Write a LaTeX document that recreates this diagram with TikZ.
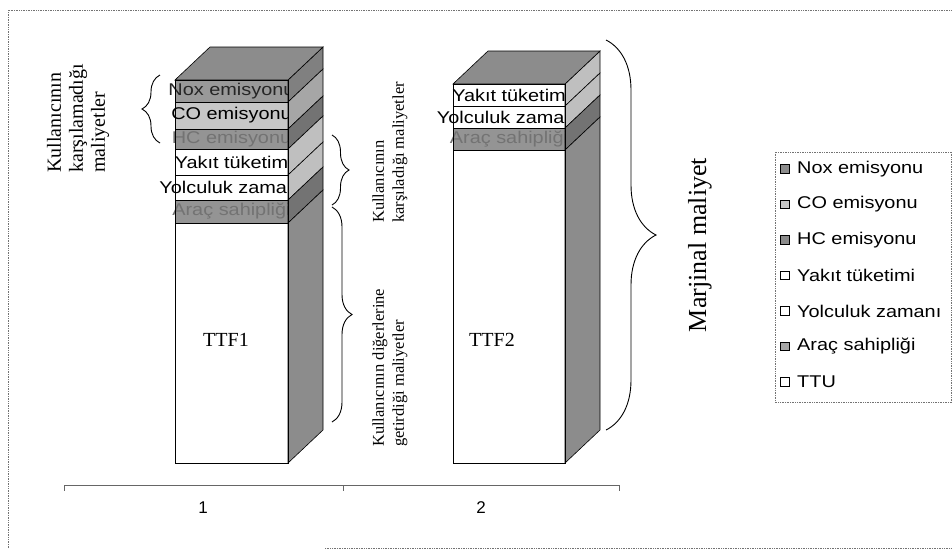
\documentclass[tikz,border=0pt]{standalone}
\usepackage{fontspec}
\setmainfont{Liberation Serif}
\newfontfamily\arialw[FakeStretch=1.17]{Liberation Sans}
\newfontfamily\arialf{Liberation Sans}
\usetikzlibrary{decorations.pathreplacing}
\begin{document}
\begin{tikzpicture}[x=1pt,y=-1pt,
  bandtxt/.style={font=\arialw\fontsize{17}{20}\selectfont, inner sep=0pt, anchor=center},
  legtxt/.style={font=\arialw\fontsize{17}{20}\selectfont, inner sep=0pt, anchor=west},
  legsq/.style={draw=black, line width=0.6pt, minimum size=8.5pt, inner sep=0pt},
  facelines/.style={draw=black, line width=0.6pt},
  dotframe/.style={draw=black!55, densely dotted, line width=0.7pt},
  bracedeco/.style={decorate, decoration={brace, amplitude=#1}, line width=0.9pt, draw=black},
  serifrot/.style={rotate=90, inner sep=0pt, align=left, anchor=west},
  ttftxt/.style={font=\fontsize{20}{22}\selectfont, inner sep=0pt}
]
\useasboundingbox (0,0) rectangle (952,550);
\fill[white] (0,0) rectangle (952,550);

% outer frame
\draw[dotframe] (8,548) -- (8,10) -- (952,10);
\draw[dotframe] (325,548) -- (952,548);

% ---------- bar 1 ----------
\foreach \ya/\yb/\fc in {80/102/black!40, 102/129/black!22, 129/149/black!42, 149/175/white, 175/200/white, 200/223/black!42, 223/463/white}
  \filldraw[facelines, fill=\fc] (175,\ya) rectangle (288,\yb);
\node[bandtxt, text=black!85] (b1nox) at (231.5,91) {Nox emisyonu};
\node[bandtxt] (b1co) at (231.5,115.5) {CO emisyonu};
\node[bandtxt, text=black!55] (b1hc) at (231.5,139) {HC emisyonu};
\node[bandtxt] (b1yak) at (231.5,162) {Yakıt tüketim};
\node[bandtxt] (b1yol) at (231.5,187.5) {Yolculuk zamanı};
\node[bandtxt, text=black!55] (b1arac) at (231.5,211.5) {Araç sahipliği};
\node[ttftxt] (ttf1) at (226,340) {TTF1};
\foreach \ya/\yb/\sc in {80/102/black!50, 102/129/black!35, 129/149/black!55, 149/175/black!25, 175/200/black!25, 200/223/black!55, 223/463/black!45}
  \filldraw[facelines, fill=\sc] (288,\ya) -- (323,\ya-33) -- (323,\yb-33) -- (288,\yb) -- cycle;
\filldraw[facelines, fill=black!45] (175,80) -- (288,80) -- (323,47) -- (210,47) -- cycle;
\draw[line width=1pt] (175,80) rectangle (288,463);

% ---------- bar 2 ----------
\foreach \ya/\yb/\fc in {84/106/white, 106/128/white, 128/150/black!42, 150/463/white}
  \filldraw[facelines, fill=\fc] (453,\ya) rectangle (565,\yb);
\node[bandtxt] (b2yak) at (509,95) {Yakıt tüketim};
\node[bandtxt] (b2yol) at (509,117) {Yolculuk zamanı};
\node[bandtxt, text=black!55] (b2arac) at (509,139) {Araç sahipliği};
\node[ttftxt] (ttf2) at (492,340) {TTF2};
\foreach \ya/\yb/\sc in {84/106/black!25, 106/128/black!25, 128/150/black!55, 150/463/black!45}
  \filldraw[facelines, fill=\sc] (565,\ya) -- (600,\ya-33) -- (600,\yb-33) -- (565,\yb) -- cycle;
\filldraw[facelines, fill=black!45] (453,84) -- (565,84) -- (600,51) -- (488,51) -- cycle;
\draw[line width=1pt] (453,84) rectangle (565,463);

% ---------- braces ----------
\coordinate (lb1) at (160,143); \coordinate (lb2) at (160,75);
\draw[bracedeco=18] (lb1) -- (lb2);
\coordinate (ub1) at (332,135); \coordinate (ub2) at (332,205);
\draw[bracedeco=17] (ub1) -- (ub2);
\coordinate (db1) at (332,207); \coordinate (db2) at (332,422);
\draw[bracedeco=20] (db1) -- (db2);
\coordinate (mb1) at (606,40); \coordinate (mb2) at (606,430);
\draw[bracedeco=50] (mb1) -- (mb2);

% ---------- rotated labels ----------
\node[serifrot, font=\fontsize{20}{22}\selectfont] (lefttxt) at (78,173) {Kullanıcının\\karşılamadığı\\maliyetler};
\node[serifrot, font=\fontsize{16.5}{20}\selectfont] (midtxt1) at (390,223) {Kullanıcının\\karşıladığı maliyetler};
\node[serifrot, font=\fontsize{16.5}{20}\selectfont] (midtxt2) at (390,447) {Kullanıcının diğerlerine\\getirdiği maliyetler};
\node[rotate=90, inner sep=0pt, font=\fontsize{26}{30}\selectfont] (marj) at (700,245) {Marjinal maliyet};

% ---------- axis ----------
\coordinate (ax0) at (64,485); \coordinate (axm) at (343,485); \coordinate (ax1) at (619,485);
\draw[black!60, line width=0.7pt] (ax0) -- (ax1);
\draw[black!60, line width=0.7pt] (ax0) -- ++(0,6);
\draw[black!60, line width=0.7pt] (axm) -- ++(0,6);
\draw[black!60, line width=0.7pt] (ax1) -- ++(0,6);
\node[font=\arialf\fontsize{17}{20}\selectfont, inner sep=0pt] (lab1) at (203,508) {1};
\node[font=\arialf\fontsize{17}{20}\selectfont, inner sep=0pt] (lab2) at (481,508) {2};

% ---------- legend ----------
\draw[dotframe] (952,152) -- (775,152) -- (775,402) -- (952,402);
\draw[dotframe] (951,152) -- (951,402);
\foreach \i/\fc/\t in {0/black!45/Nox emisyonu, 1/black!22/CO emisyonu, 2/black!45/HC emisyonu, 3/white/Yakıt tüketimi, 4/white/Yolculuk zamanı, 5/black!35/Araç sahipliği, 6/white/TTU}{
  \node[legsq, fill=\fc] (sq\i) at (785,169+35.5*\i) {};
  \node[legtxt] (leg\i) at (797,169+35.5*\i) {\t};
}
\end{tikzpicture}
\end{document}
